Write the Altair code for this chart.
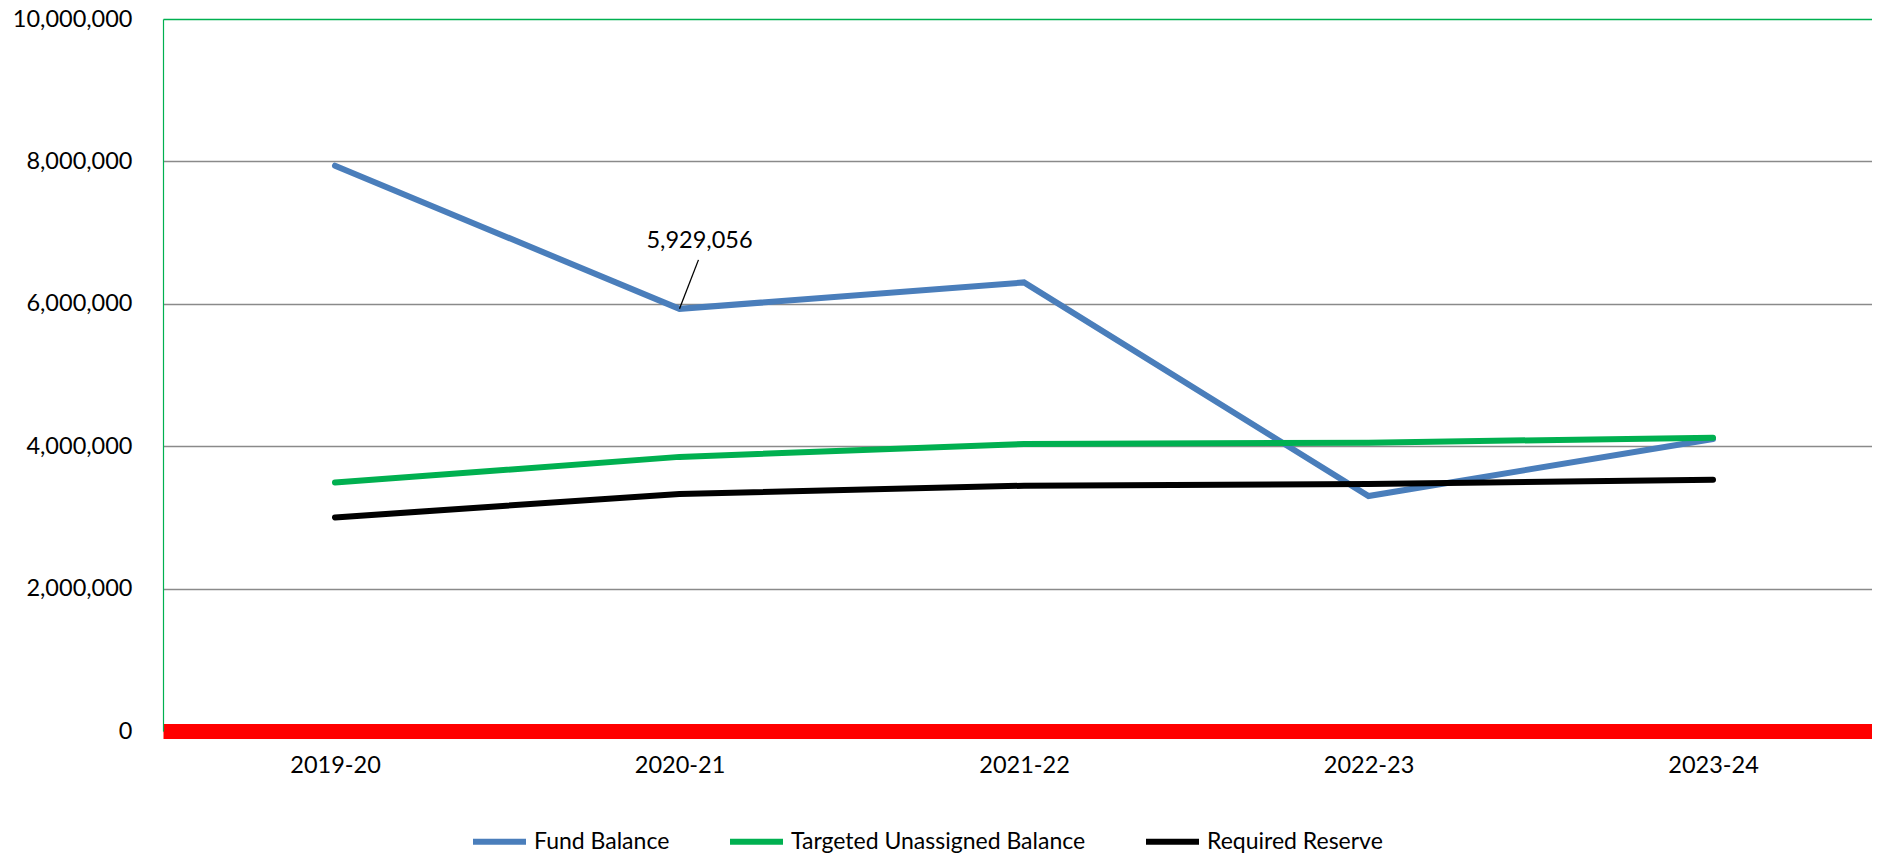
import altair as alt
import pandas as pd

categories = ["2019-20", "2020-21", "2021-22", "2022-23", "2023-24"]
series_names = ["Fund Balance", "Targeted Unassigned Balance", "Required Reserve"]
fund_balance = [7940000, 5929056, 6300000, 3300000, 4100000]
targeted_unassigned = [3490000, 3850000, 4030000, 4050000, 4120000]
required_reserve = [3000000, 3330000, 3445000, 3470000, 3530000]
series_colors = ["#4A7EBB", "#00B050", "#000000"]
y_ticks = [0, 2000000, 4000000, 6000000, 8000000, 10000000]

rows = []
for name, vals in zip(series_names, [fund_balance, targeted_unassigned, required_reserve]):
    for i, (cat, v) in enumerate(zip(categories, vals)):
        rows.append({"year": cat, "idx": i, "series": name, "value": v})
df = pd.DataFrame(rows)

label_df = pd.DataFrame([{"year": categories[1], "idx": 1, "value": fund_balance[1]}])

FONT = "Lato"
cat_js = "[" + ",".join(f"'{c}'" for c in categories) + "]"

x_scale = alt.Scale(domain=[-0.49927, 4.4615], nice=False, zero=False)
y_scale = alt.Scale(domain=[0, 10000000], nice=False)

x_enc = alt.X("idx:Q", scale=x_scale, axis=alt.Axis(
    title=None, values=list(range(len(categories))), labelExpr=f"{cat_js}[datum.value]",
    grid=False, ticks=False, domainColor="#FF0000", domainWidth=15,
    labelFont=FONT, labelFontSize=23.5, labelColor="#000000", labelPadding=22,
    labelBaseline="top"))
y_enc = alt.Y("value:Q", scale=y_scale, axis=alt.Axis(
    title=None, values=y_ticks, format=",d", ticks=False,
    domainColor="#00B050", domainWidth=1.2,
    gridColor={"condition": {"test": "datum.value == 10000000", "value": "#00B050"}, "value": "#8A8A8A"},
    gridWidth=1.5,
    labelFont=FONT, labelFontSize=23.5, labelColor="#000000", labelPadding=31))

lines = alt.Chart(df).mark_line(strokeWidth=6, strokeCap="round").encode(
    x=x_enc, y=y_enc,
    color=alt.Color("series:N", scale=alt.Scale(domain=series_names, range=series_colors),
                    sort=series_names,
                    legend=alt.Legend(title=None, orient="none", direction="horizontal",
                                      legendX=307, legendY=793, symbolType="stroke",
                                      symbolSize=2809, symbolStrokeWidth=6,
                                      labelFont=FONT, labelFontSize=23, labelLimit=0,
                                      labelColor="#000000", labelOffset=5, columnPadding=48)),
    order="idx:Q")

label = alt.Chart(label_df).mark_text(font=FONT, fontSize=23.5, color="#000000",
                                     dx=20, dy=-68, align="center", baseline="middle").encode(
    x=alt.X("idx:Q", scale=x_scale), y=alt.Y("value:Q", scale=y_scale),
    text=alt.Text("value:Q", format=","))

leader = alt.Chart(label_df).transform_calculate(
    idx2="datum.idx + 0.055", value2="datum.value + 688000"
).mark_rule(color="#000000", strokeWidth=1.3).encode(
    x=alt.X("idx:Q", scale=x_scale), y=alt.Y("value:Q", scale=y_scale),
    x2="idx2:Q", y2="value2:Q")

chart = alt.layer(lines, leader, label).properties(
    width=1709, height=712,
    autosize=alt.AutoSizeParams(type="none"),
    padding={"left": 155, "top": 11, "right": 0, "bottom": 123},
    background="#FFFFFF",
).configure_view(stroke=None)

chart.save("out.html", embed_options={"renderer": "svg", "actions": False})
